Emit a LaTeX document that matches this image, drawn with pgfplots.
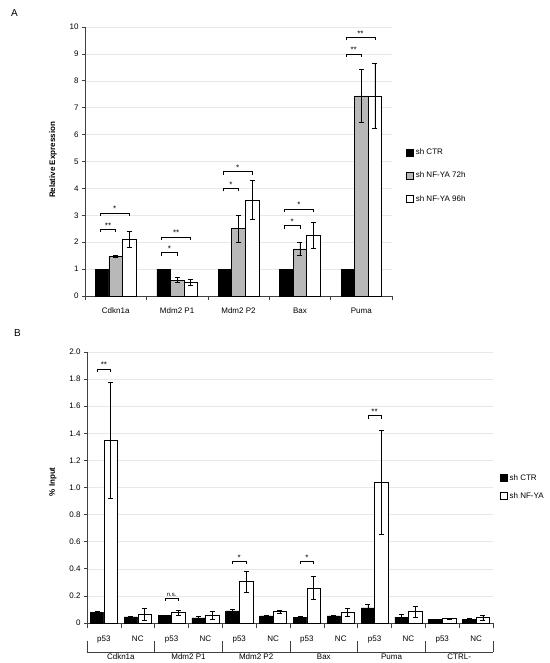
\documentclass[border=0pt]{standalone}
\usepackage{fontspec}
\setmainfont{Liberation Sans}
\usepackage{pgfplots}
\pgfplotsset{compat=1.18}
\definecolor{barGray}{HTML}{B8B8B8}
\pgfplotsset{
  base/.style={
    scale only axis, anchor=south west, axis lines*=left, clip=false,
    axis line style={black!75, line width=0.6pt},
    tick style={black!75, line width=0.6pt},
    ymajorgrids, grid style={black!9, line width=0.5pt},
    tick align=outside, major tick length=3pt, minor tick length=4.5pt,
    major x tick style={draw=none},
    /pgf/number format/assume math mode=true,
    tick label style={font=\fontsize{8}{9}\selectfont},
    xticklabel style={anchor=base, yshift=-15pt},
    legend style={draw=none, fill=none, inner sep=0pt, font=\fontsize{8}{9}\selectfont,
      row sep=9pt, legend cell align=left},
    every axis y label/.style={rotate=90, anchor=center, font=\fontsize{8}{9}\selectfont\bfseries},
  },
  bb/.style={ybar, bar width=#1, bar shift=0pt, draw=black, line width=0.5pt, forget plot,
    error bars/y dir=both, error bars/y explicit,
    error bars/error bar style={line width=0.6pt, black},
    error bars/error mark options={rotate=90, mark size=2.5pt, line width=0.6pt, black}},
  sq/.style={legend image code/.code={\draw[#1, line width=0.5pt] (0pt,-3.5pt) rectangle (7pt,3.5pt);}},
}
\newcommand{\brk}[4]{% x1,x2,y,text
  \draw[black, line width=0.6pt] ([yshift=-3pt]axis cs:#1,#3) -- (axis cs:#1,#3) -- (axis cs:#2,#3) -- ([yshift=-3pt]axis cs:#2,#3);
  \node[anchor=south, inner sep=1pt, font=\fontsize{8}{9}\selectfont] at (axis cs:{(#1+#2)/2},#3) {#4};}
\newcommand{\brks}[4]{%
  \draw[black, line width=0.6pt] ([yshift=-3pt]axis cs:#1,#3) -- (axis cs:#1,#3) -- (axis cs:#2,#3) -- ([yshift=-3pt]axis cs:#2,#3);
  \node[anchor=south, inner sep=1pt, font=\fontsize{6}{7}\selectfont] at (axis cs:{(#1+#2)/2},#3) {#4};}
\newcommand{\vsep}[1]{\draw[black!75, line width=0.6pt] ([yshift=-18pt]axis cs:#1,0) -- ([yshift=-29pt]axis cs:#1,0);}
\newcommand{\gname}[2]{\node[anchor=base, inner sep=0pt, font=\fontsize{8}{9}\selectfont] at ([yshift=-36pt]axis cs:#1,0) {#2};}
\begin{document}
\begin{tikzpicture}[x=1pt,y=1pt]
\useasboundingbox (0,0) rectangle (549,663);
\node[anchor=base west, inner sep=0pt, font=\fontsize{10}{12}\selectfont] at (11,646) {A};
\node[anchor=base west, inner sep=0pt, font=\fontsize{10}{12}\selectfont] at (14,326) {B};
% ---------------- Panel A
\begin{axis}[base, at={(85pt,367pt)}, width=307pt, height=269pt,
  xmin=-0.5, xmax=4.5, ymin=0, ymax=10, ytick={0,1,...,10},
  xtick={0,1,2,3,4}, xticklabels={Cdkn1a,Mdm2 P1,Mdm2 P2,Bax,Puma},
  minor xtick={-0.5,0.5,1.5,2.5,3.5,4.5},
  ylabel={Relative Expression},
  ylabel style={at={(axis description cs:-0.104,0.506)}},
  legend style={at={(1.046,0.556)}, anchor=north west, row sep=12pt},
]
% sh CTR (bars at category - 0.22)
\addplot[bb=0.22, fill=black] coordinates {(-0.22,1) (0.78,1) (1.78,1) (2.78,1) (3.78,1)};
% sh NF-YA 72h (bars at category)
\addplot[bb=0.22, fill=barGray] coordinates {
  (0,1.48) +- (0,0.03) (1,0.59) +- (0,0.09) (2,2.5) +- (0,0.5) (3,1.75) +- (0,0.25) (4,7.44) +- (0,0.97)};
% sh NF-YA 96h (bars at category + 0.22)
\addplot[bb=0.22, fill=white] coordinates {
  (0.22,2.1) +- (0,0.29) (1.22,0.5) +- (0,0.11) (2.22,3.57) +- (0,0.72) (3.22,2.26) +- (0,0.48) (4.22,7.44) +- (0,1.2)};
\addlegendimage{sq={fill=black,draw=black}}\addlegendentry{sh CTR}
\addlegendimage{sq={fill=barGray,draw=black}}\addlegendentry{sh NF-YA 72h}
\addlegendimage{sq={fill=white,draw=black}}\addlegendentry{sh NF-YA 96h}
\brk{-0.25}{0}{2.48}{**}  \brk{-0.25}{0.22}{3.09}{*}
\brk{0.75}{1}{1.61}{*}    \brk{0.75}{1.22}{2.19}{**}
\brk{1.75}{2}{4.0}{*}     \brk{1.75}{2.22}{4.62}{*}
\brk{2.75}{3}{2.61}{*}    \brk{2.75}{3.22}{3.23}{*}
\brk{3.75}{4}{9.0}{**}    \brk{3.75}{4.22}{9.62}{**}
\end{axis}
% ---------------- Panel B
\begin{axis}[base, at={(87pt,40pt)}, width=406pt, height=271pt,
  xmin=-0.5, xmax=11.5, ymin=0, ymax=2, ytick={0,0.2,...,2.0},
  yticklabels={0,0.2,0.4,0.6,0.8,1.0,1.2,1.4,1.6,1.8,2.0},
  xtick={0,1,...,11}, xticklabels={p53,NC,p53,NC,p53,NC,p53,NC,p53,NC,p53,NC},
  minor xtick={-0.5,0.5,...,11.5},
  ylabel={\% Input},
  ylabel style={at={(axis description cs:-0.084,0.521)}},
  legend style={at={(1.017,0.557)}, anchor=north west, row sep=7pt},
]
% sh CTR (at group - 0.2)
\addplot[bb=0.4, fill=black] coordinates {
  (-0.2,0.08) +- (0,0.004) (0.8,0.045) +- (0,0.004) (1.8,0.055) +- (0,0.004) (2.8,0.037) +- (0,0.01)
  (3.8,0.09) +- (0,0.012) (4.8,0.053) +- (0,0.003) (5.8,0.042) +- (0,0.01) (6.8,0.052) +- (0,0.003)
  (7.8,0.112) +- (0,0.025) (8.8,0.044) +- (0,0.018) (9.8,0.027) +- (0,0.002) (10.8,0.028) +- (0,0.005)};
% sh NF-YA (at group + 0.2)
\addplot[bb=0.4, fill=white] coordinates {
  (0.2,1.35) +- (0,0.43) (1.2,0.065) +- (0,0.045) (2.2,0.077) +- (0,0.02) (3.2,0.06) +- (0,0.03)
  (4.2,0.305) +- (0,0.08) (5.2,0.085) +- (0,0.01) (6.2,0.258) +- (0,0.085) (7.2,0.08) +- (0,0.032)
  (8.2,1.04) +- (0,0.385) (9.2,0.085) +- (0,0.04) (10.2,0.033) +- (0,0.003) (11.2,0.04) +- (0,0.02)};
\addlegendimage{sq={fill=black,draw=black}}\addlegendentry{sh CTR}
\addlegendimage{sq={fill=white,draw=black}}\addlegendentry{sh NF-YA}
\brk{-0.2}{0.2}{1.874}{**}
\brks{1.8}{2.2}{0.185}{n.s.}
\brk{3.8}{4.2}{0.456}{*}
\brk{5.8}{6.2}{0.456}{*}
\brk{7.8}{8.2}{1.53}{**}
% group separators
\draw[black!75, line width=0.6pt] ([yshift=-29pt]axis cs:-0.5,0) -- ([yshift=-29pt]axis cs:11.5,0);
\vsep{-0.5}\vsep{1.5}\vsep{3.5}\vsep{5.5}\vsep{7.5}\vsep{9.5}\vsep{11.5}
\gname{0.5}{Cdkn1a}\gname{2.5}{Mdm2 P1}\gname{4.5}{Mdm2 P2}
\gname{6.5}{Bax}\gname{8.5}{Puma}\gname{10.5}{CTRL-}
\end{axis}
\end{tikzpicture}
\end{document}
